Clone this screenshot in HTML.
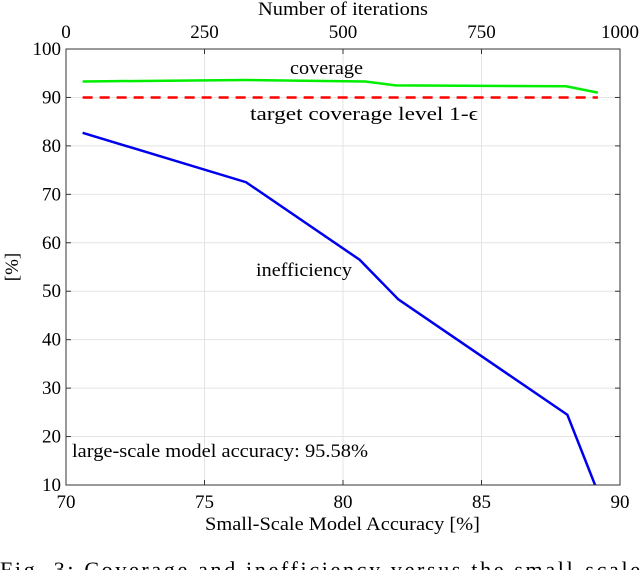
<!DOCTYPE html>
<html><head><meta charset="utf-8"><style>
body{margin:0;background:#fff;width:640px;height:570px;overflow:hidden}
svg{font-family:"Liberation Serif",serif;}
</style></head><body>
<svg width="640" height="570">
<g id="grid"></g>
<g id="series"></g>
<g id="axes"></g>
<text x="258" y="15" font-size="19" textLength="170" lengthAdjust="spacingAndGlyphs">Number of iterations</text>
<text x="205" y="530" font-size="19" textLength="275" lengthAdjust="spacingAndGlyphs">Small-Scale Model Accuracy [%]</text>
<text transform="translate(18,267) rotate(-90)" font-size="19" text-anchor="middle">[%]</text>
<text x="290" y="74" font-size="19" textLength="73" lengthAdjust="spacingAndGlyphs">coverage</text>
<text x="250" y="120" font-size="19" textLength="228" lengthAdjust="spacingAndGlyphs">target coverage level 1-ϵ</text>
<text x="256" y="276" font-size="19" textLength="96" lengthAdjust="spacingAndGlyphs">inefficiency</text>
<text x="72" y="457" font-size="19" textLength="296" lengthAdjust="spacingAndGlyphs">large-scale model accuracy: 95.58%</text>
<text x="0" y="577" font-size="22" textLength="640" lengthAdjust="spacing">Fig. 3: Coverage and inefficiency versus the small-scale</text>
</svg>
<script>
const xTicks=[70,75,80,85,90];
const yTicks=[10,20,30,40,50,60,70,80,90,100];
const topTicks=[0,250,500,750,1000];
const accX=[70.6,76.5,80.6,82.0,88.1,89.1];
const ineff=[82.7,72.5,56.5,48.3,24.5,10];
const covX=[70.6,76.5,80.8,81.9,88.05,89.2];
const cov=[93.3,93.6,93.3,92.5,92.3,91.0];
const target=[90,90];
const targetX=[70.6,89.2];
const L=66,R=620,T=49,B=485;
const sx=v=>L+(v-70)/20*(R-L);
const sy=v=>B-(v-10)/90*(B-T);
const st=v=>L+v/1000*(R-L);
const NS="http://www.w3.org/2000/svg";
function mk(p,t,a){const e=document.createElementNS(NS,t);for(const k in a)e.setAttribute(k,a[k]);document.getElementById(p).appendChild(e);return e;}
xTicks.forEach(v=>{const e=mk('grid','line',{x1:sx(v),x2:sx(v),y1:T,y2:B,stroke:'#e4e4e4'});

const t=mk('axes','text',{x:sx(v),y:B+23,'font-size':19,'text-anchor':'middle'});t.textContent=v;

mk('axes','line',{x1:sx(v),x2:sx(v),y1:B,y2:B-5,stroke:'#333'});});
yTicks.forEach(v=>{const e=mk('grid','line',{x1:L,x2:R,y1:sy(v),y2:sy(v),stroke:'#e4e4e4'});

const t=mk('axes','text',{x:L-5,y:sy(v)+6,'font-size':19,'text-anchor':'end'});t.textContent=v;

mk('axes','line',{x1:L,x2:L+5,y1:sy(v),y2:sy(v),stroke:'#333'});mk('axes','line',{x1:R,x2:R-5,y1:sy(v),y2:sy(v),stroke:'#333'});});
topTicks.forEach(v=>{const t=mk('axes','text',{x:st(v),y:T-11,'font-size':19,'text-anchor':'middle'});t.textContent=v;

mk('axes','line',{x1:st(v),x2:st(v),y1:T,y2:T+5,stroke:'#333'});});
const box=mk('axes','rect',{x:L,y:T,width:R-L,height:B-T,fill:'none',stroke:'#333','stroke-width':1});

const pts=(xs,ys)=>xs.map((x,i)=>sx(x)+','+sy(ys[i])).join(' ');
const tl=mk('series','polyline',{points:pts(targetX,target),fill:'none',stroke:'#ff0000','stroke-width':2.5,'stroke-dasharray':'10,7'});

const cl=mk('series','polyline',{points:pts(covX,cov),fill:'none',stroke:'#00ee00','stroke-width':2.5});

const il=mk('series','polyline',{points:pts(accX,ineff),fill:'none',stroke:'#0000ee','stroke-width':2.5});

</script>
</body></html>
